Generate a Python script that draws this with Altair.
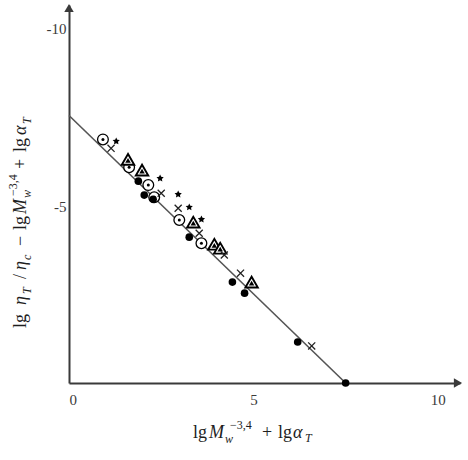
import altair as alt
import pandas as pd

# ---- data ----
circ_x = [0.92, 1.63, 2.15, 2.31, 2.99, 3.59]
circ_y = [-6.83, -6.05, -5.55, -5.21, -4.57, -3.92]
tri_x = [1.60, 1.98, 3.37, 3.94, 4.10, 4.95]
tri_y = [-6.27, -5.97, -4.51, -3.89, -3.78, -2.83]
cross_x = [1.14, 2.50, 2.96, 3.53, 4.21, 4.65, 6.58]
cross_y = [-6.58, -5.32, -4.90, -4.20, -3.59, -3.08, -1.04]
star_x = [1.28, 2.47, 2.96, 3.26, 3.59]
star_y = [-6.78, -5.74, -5.29, -4.93, -4.59]
dot_x = [1.88, 2.04, 2.28, 3.26, 4.43, 4.76, 6.20, 7.50]
dot_y = [-5.66, -5.27, -5.15, -4.09, -2.83, -2.52, -1.15, 0.0]
line_x = [0.0, 7.5]
line_y = [-7.5, 0.0]
x_ticks = [0, 5, 10]
y_ticks = [-10, -5]

FONT = "Liberation Serif"
INK = "#3a3a3a"

xs = alt.Scale(domain=[0, 10.6], nice=False, zero=False)
ys = alt.Scale(domain=[-10.6, 0], nice=False, zero=False, reverse=True)

xaxis = alt.Axis(values=x_ticks, ticks=False, grid=False, title=None,
                 labelFont=FONT, labelFontSize=15, labelColor=INK,
                 labelPadding=9, domainColor=INK, domainWidth=2,
                 labelExpr="'' + datum.value")
yaxis = alt.Axis(values=y_ticks, ticks=False, grid=False, title=None,
                 labelFont=FONT, labelFontSize=15, labelColor=INK,
                 labelPadding=3, domainColor=INK, domainWidth=2,
                 labelOffset=2, labelExpr="'' + datum.value")


def df(xv, yv):
    return pd.DataFrame({"x": xv, "y": yv})


def enc(ch):
    return ch.encode(
        x=alt.X("x:Q", scale=xs, axis=xaxis),
        y=alt.Y("y:Q", scale=ys, axis=yaxis),
    )


line = enc(alt.Chart(df(line_x, line_y)).mark_line(color="#555555", strokeWidth=1.6))

circ_outer = enc(alt.Chart(df(circ_x, circ_y)).mark_point(
    shape="circle", size=115, filled=True, fill="white", stroke="black",
    strokeWidth=1.3, opacity=1))
circ_inner = enc(alt.Chart(df(circ_x, circ_y)).mark_point(
    shape="circle", size=9, filled=True, color="black", opacity=1))

tri_outer = enc(alt.Chart(df(tri_x, tri_y)).mark_point(
    shape="triangle-up", size=155, filled=True, fill="white", stroke="black",
    strokeWidth=1.9, opacity=1))
tri_inner = enc(alt.Chart(df(tri_x, tri_y)).mark_point(
    shape="triangle-up", size=30, filled=True, color="black", opacity=1, yOffset=1))

cross = enc(alt.Chart(df(cross_x, cross_y)).mark_point(
    shape="M-1,-1L1,1M1,-1L-1,1", size=50, filled=False, stroke="#222222",
    strokeWidth=1.3, opacity=1))

star_path = ("M0,-1L0.29,-0.4L0.951,-0.309L0.47,0.15L0.588,0.809L0,0.5"
             "L-0.588,0.809L-0.47,0.15L-0.951,-0.309L-0.29,-0.4Z")
stars = enc(alt.Chart(df(star_x, star_y)).mark_point(
    shape=star_path, size=58, filled=True, color="black", opacity=1))

dots = enc(alt.Chart(df(dot_x, dot_y)).mark_point(
    shape="circle", size=58, filled=True, color="black", opacity=1))

arrow_up = alt.Chart(pd.DataFrame({"a": [0]})).mark_point(
    shape="triangle-up", filled=True, color=INK, size=90, opacity=1, yOffset=3
).encode(x=alt.XDatum(0, scale=xs, axis=xaxis), y=alt.YDatum(-10.6, scale=ys, axis=yaxis))
arrow_right = alt.Chart(pd.DataFrame({"a": [0]})).mark_point(
    shape="triangle-right", filled=True, color=INK, size=90, opacity=1, xOffset=-2
).encode(x=alt.XDatum(10.6, scale=xs, axis=xaxis), y=alt.YDatum(0, scale=ys, axis=yaxis))

# ---- axis titles built from pieces (sub/superscripts) ----
xt_norm = pd.DataFrame({"t": ["lg", "+", "lg", "\u22123,4"],
                        "px": [124, 193, 209, 161],
                        "py": [433, 433, 433, 424],
                        "fs": [18, 18, 18, 12]})
xt_ital = pd.DataFrame({"t": ["M", "\u03b1", "w", "T"],
                        "px": [140, 224, 156, 236],
                        "py": [433, 433, 438, 437],
                        "fs": [18, 18, 12, 12]})
yt_norm = pd.DataFrame({"t": ["lg", "/", "\u2212", "lg", "+", "lg", "\u22123,4"],
                        "px": [-43, -43, -43, -43, -43, -43, -52],
                        "py": [323, 274, 241, 225, 164, 147, 191],
                        "fs": [18, 18, 18, 18, 18, 18, 12]})
yt_ital = pd.DataFrame({"t": ["\u03b7", "\u03b7", "M", "\u03b1", "T", "c", "w", "T"],
                        "px": [-43, -43, -43, -43, -38, -38, -38, -38],
                        "py": [300, 265, 209, 130, 289, 255, 193, 119],
                        "fs": [18, 18, 18, 18, 12, 12, 12, 12]})


def txt(d, style, angle=0):
    return alt.Chart(d).mark_text(
        font=FONT, fontStyle=style, color="#1e1e1e", align="left",
        baseline="alphabetic", angle=angle
    ).encode(
        x=alt.X("px:Q", scale=None, axis=None),
        y=alt.Y("py:Q", scale=None, axis=None),
        text="t:N",
        size=alt.Size("fs:Q", scale=None, legend=None),
    )


chart = alt.layer(
    line, circ_outer, circ_inner, tri_outer, tri_inner, cross, stars, dots,
    arrow_up, arrow_right,
    txt(xt_norm, "normal"), txt(xt_ital, "italic"),
    txt(yt_norm, "normal", 270), txt(yt_ital, "italic", 270),
).properties(
    width=391, height=378,
    padding={"left": 69, "top": 5, "right": 8, "bottom": 77},
    autosize=alt.AutoSizeParams(type="none"),
    background="white",
).configure_view(stroke=None)

chart.save("out.html", embed_options={"renderer": "svg", "actions": False})
